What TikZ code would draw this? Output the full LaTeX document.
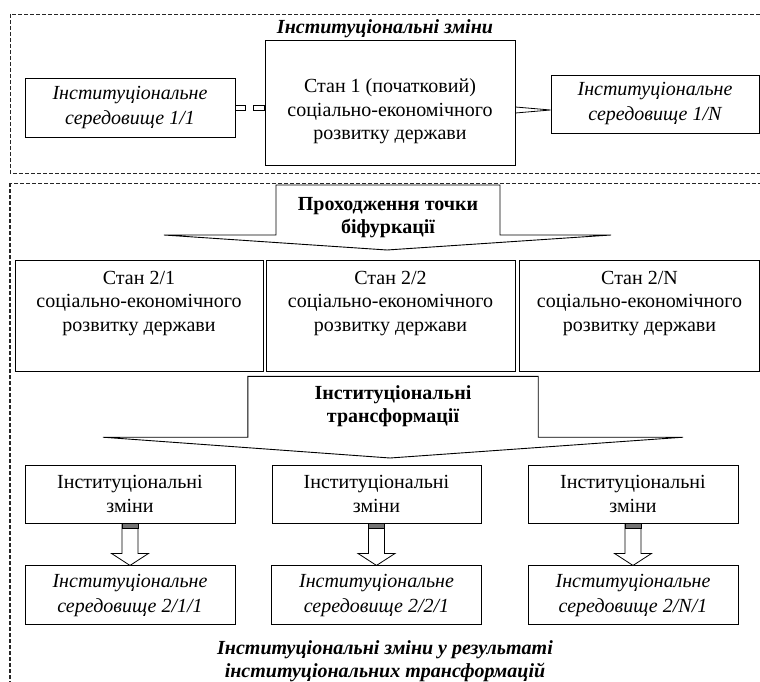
\documentclass[tikz,border=0pt]{standalone}
\usepackage{fontspec}
\setmainfont{Liberation Serif}
\usetikzlibrary{positioning,calc}

\begin{document}
\begin{tikzpicture}[
    x=1pt, y=-1pt,
    every node/.style={font=\fontsize{20}{23.5}\selectfont},
    box/.style={rectangle, draw, line width=0.9pt, align=center, inner sep=0pt},
    statebox/.style={box, minimum height=111pt, text depth=29pt},
    chgbox/.style={box, minimum width=210pt, minimum height=58pt},
    envbox/.style={box, minimum width=210pt, minimum height=59pt, font=\fontsize{20}{25}\selectfont\itshape},
    calltext/.style={align=center, inner sep=0pt, font=\fontsize{20}{23.5}\selectfont\bfseries},
    callout/.style={line width=0.9pt, line join=miter},
    note/.style={align=center, inner sep=0pt, font=\fontsize{20}{23}\selectfont\bfseries\itshape},
    frame/.style={draw=black!85, dash pattern=on 4pt off 2pt, line width=0.9pt},
    hollow/.style={line width=0.8pt, fill=white}
]
    \useasboundingbox (0,0) rectangle (760,682);

    % frames
    \draw[frame] (10,14) rectangle (775,173);
    \draw[frame] (10,183) rectangle (775,700);
    \draw[frame, line width=1.6pt] (10,183) -- (10,682);

    % Institutional changes (stage 1)
    \node[note] (ttl) at (385,29) {Інституціональні зміни};
    \node[box, minimum width=250pt, minimum height=125pt, text height=79pt] (st1) at (390,102.5)
        {Стан 1 (початковий)\\соціально-економічного\\розвитку держави};
    \node[envbox] (env11) at (130,108) {Інституціональне\\середовище 1/1};
    \node[envbox, minimum width=208pt, minimum height=58pt] (env1N) at (655,104)
        {Інституціональне\\середовище 1/N};

    \draw[line width=0.8pt] (env11.east) ++(0,-2.5) rectangle ++(10,5);
    \draw[line width=0.8pt] (st1.west |- env11.east) ++(0,-2.5) rectangle ++(-11,5);
    \draw[line width=0.8pt] ($(st1.east)+(0,4.5)$) -- ($(env1N.west)+(0,6)$) -- ($(st1.east)+(0,10.5)$);

    % Bifurcation point
    \node[calltext] (call1) at (388,217.5) {Проходження точки\\біфуркації};
    \coordinate (tip1) at (387,250);
    \draw[callout] (call1.center) ++(-112,17.5) -- ++(0,-50) -- ++(224,0) -- ++(0,50)
        -- ++(111,0) -- (tip1) -- ++(-223,-15) -- cycle;

    % States 2
    \node[statebox, minimum width=248pt] (s21) at (139,315.5)
        {Стан 2/1\\соціально-економічного\\розвитку держави};
    \node[statebox, minimum width=249pt] (s22) at (390.5,315.5)
        {Стан 2/2\\соціально-економічного\\розвитку держави};
    \node[statebox, minimum width=240pt] (s2N) at (639.5,315.5)
        {Стан 2/N\\соціально-економічного\\розвитку держави};

    % Institutional transformations
    \node[calltext, minimum width=290pt, minimum height=59pt] (call2) at (393,406)
        {Інституціональні\\трансформації};
    \coordinate (tip2) at (390,458);
    \draw[callout] ($(call2.south west)+(0,1.5)$) -- (call2.north west) -- (call2.north east)
        -- ($(call2.south east)+(0,1.5)$) -- ++(145,0) -- (tip2) -- ($(call2.south west)+(-145,1.5)$)
        -- cycle;

    % Changes and new environments
    \node[chgbox] (chg1) at (130,494) {Інституціональні\\зміни};
    \node[chgbox, minimum width=209pt] (chg2) at (376.5,494) {Інституціональні\\зміни};
    \node[chgbox] (chgN) at (633,494) {Інституціональні\\зміни};

    \node[envbox, below=42pt of chg1] (new1) {Інституціональне\\середовище 2/1/1};
    \node[envbox, below=42pt of chg2] (new2) {Інституціональне\\середовище 2/2/1};
    \node[envbox, below=42pt of chgN] (newN) {Інституціональне\\середовище 2/N/1};

    \foreach \n in {1,2,N} {
        \draw[hollow] ([xshift=-8pt]chg\n.south) -- ++(0,30) -- ++(-10.5,0) -- (new\n.north)
            -- ++(18.5,-12) -- ++(-10.5,0) -- ([xshift=8pt]chg\n.south);
        \draw[line width=0.8pt, fill=black!55] ([xshift=-8pt]chg\n.south) rectangle ([xshift=8pt,yshift=-5pt]chg\n.south);
    }

    \node[note] (res) at (385,661) {Інституціональні зміни у результаті\\інституціональних трансформацій};
\end{tikzpicture}
\end{document}
